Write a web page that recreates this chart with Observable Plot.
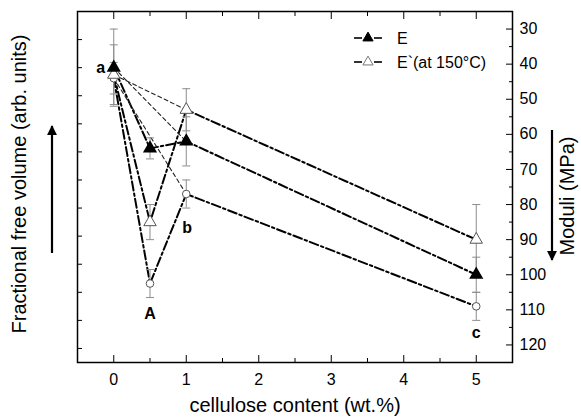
<!DOCTYPE html>
<html><head><meta charset="utf-8">
<script src="https://cdn.jsdelivr.net/npm/d3@7"></script>
<script src="https://cdn.jsdelivr.net/npm/@observablehq/plot@0.6"></script>
<style>
body{margin:0;background:#fff}
svg{font-family:"Liberation Sans",Arial,Helvetica,sans-serif}
</style>
</head><body><div id="chart"></div>
<script>
// ---- data ----
const contents = [0, 0.5, 1, 5];               // cellulose content (wt.%)
const modulusE = [41, 64, 62, 100];             // E (MPa), filled triangles
const errE = [11, 3, 7, 5];
const modulusE150 = [43, 85, 53, 90];           // E` at 150 °C, open triangles
const errE150 = [8.5, 5, 6, 10];
const freeVolume = [44, 102.5, 77, 109];        // fractional free volume, open circles
const errFreeVolume = [4.5, 4, 4, 4];
const xMajorTicks = [0, 1, 2, 3, 4, 5];
const xMinorTicks = [0.5, 1.5, 2.5, 3.5, 4.5];
const yMajorTicks = [30, 40, 50, 60, 70, 80, 90, 100, 110, 120];
const yMinorTicks = [35, 45, 55, 65, 75, 85, 95, 105, 115];
const leftTicks = [33, 41, 49, 57, 65, 73, 81, 89, 97, 105, 113, 121];
const legendItems = ["E", "E`(at 150°C)"];
const pointLabels = [
  {series: "E", index: 0, text: "a"},
  {series: "FFV", index: 1, text: "A"},
  {series: "FFV", index: 2, text: "b"},
  {series: "FFV", index: 3, text: "c"}
];

const seriesDefs = [
  {key: "E", values: modulusE, errs: errE},
  {key: "E150", values: modulusE150, errs: errE150},
  {key: "FFV", values: freeVolume, errs: errFreeVolume}
];
const rows = seriesDefs.flatMap(s => contents.map((x, i) => ({series: s.key, x, y: s.values[i], err: s.errs[i]})));
const shortRows = rows.filter(d => d.x === 0 || d.x === 1);
const labelRows = pointLabels.map(p => {
  const r = rows.find(d => d.series === p.series && d.x === contents[p.index]);
  return {...r, text: p.text};
});
const labelOffsets = {a: [-13, 0], A: [0, 30], b: [1, 34], c: [0, 27]};

const capSymbol = {draw(ctx) { ctx.moveTo(-4, 0); ctx.lineTo(4, 0); }};
const grey = "#8c8c8c";

const plot = Plot.plot({
  width: 581, height: 419,
  marginLeft: 77, marginRight: 69, marginTop: 11, marginBottom: 57,
  style: {fontFamily: "'Liberation Sans', Arial, sans-serif", fontSize: "16px", background: "#fff", color: "#000"},
  x: {domain: [-0.5, 5.5]},
  y: {domain: [125, 25]},
  marks: [
    // dash-dot connecting lines
    Plot.line(rows, {x: "x", y: "y", z: "series", stroke: "#000", strokeWidth: 2, strokeDasharray: "9,3,2.5,3"}),
    // thin dashed 0 -> 1 lines
    Plot.line(shortRows, {x: "x", y: "y", z: "series", stroke: "#222", strokeWidth: 1.1, strokeDasharray: "4,3"}),
    // error bars
    Plot.ruleX(rows, {x: "x", y1: d => d.y - d.err, y2: d => d.y + d.err, stroke: grey, strokeWidth: 1}),
    Plot.dot(rows, {x: "x", y: d => d.y - d.err, symbol: capSymbol, stroke: grey, strokeWidth: 1, r: 4}),
    Plot.dot(rows, {x: "x", y: d => d.y + d.err, symbol: capSymbol, stroke: grey, strokeWidth: 1, r: 4}),
    // markers
    Plot.dot(rows.filter(d => d.series === "FFV"), {x: "x", y: "y", r: 3.8, fill: "#fff", stroke: "#555", strokeWidth: 1}),
    Plot.dot(rows.filter(d => d.series === "E150"), {x: "x", y: "y", r: 4.6, symbol: "triangle", fill: "#fff", stroke: "#555", strokeWidth: 1}),
    Plot.dot(rows.filter(d => d.series === "E"), {x: "x", y: "y", r: 4.3, symbol: "triangle", fill: "#000", stroke: "#000"}),
    // point labels
    ...labelRows.map(d => Plot.text([d], {x: "x", y: "y", text: "text", fontWeight: "bold", fontSize: 16,
      dx: labelOffsets[d.text][0], dy: labelOffsets[d.text][1]})),
    // frame
    Plot.frame({stroke: "#000", strokeWidth: 1.5}),
    // bottom axis: inward ticks + labels
    Plot.axisX(xMajorTicks, {anchor: "bottom", tickSize: 7, dy: -7, tickFormat: () => "", label: null}),
    Plot.axisX(xMinorTicks, {anchor: "bottom", tickSize: 4, dy: -4, tickFormat: () => "", label: null}),
    Plot.axisX(xMajorTicks, {anchor: "bottom", tickSize: 0, tickPadding: 11, fontSize: 16, label: null}),
    // top axis ticks
    Plot.axisX(xMajorTicks, {anchor: "top", tickSize: 7, dy: 7, tickFormat: () => "", label: null}),
    Plot.axisX(xMinorTicks, {anchor: "top", tickSize: 4, dy: 4, tickFormat: () => "", label: null}),
    // right axis
    Plot.axisY(yMajorTicks, {anchor: "right", tickSize: 7, dx: -7, tickFormat: () => "", label: null}),
    Plot.axisY(yMinorTicks, {anchor: "right", tickSize: 4, dx: -4, tickFormat: () => "", label: null}),
    Plot.axisY(yMajorTicks, {anchor: "right", tickSize: 0, tickPadding: 7, fontSize: 16, label: null}),
    // left axis (free volume, unlabelled ticks)
    Plot.axisY(leftTicks, {anchor: "left", tickSize: 5, dx: 5, tickFormat: () => "", label: null}),
    // axis titles
    Plot.text(["cellulose content (wt.%)"], {frameAnchor: "bottom", dy: 49, fontSize: 20}),
    Plot.text(["Fractional free volume (arb. units)"], {frameAnchor: "left", dx: -58, dy: -3, rotate: -90, textAnchor: "middle", fontSize: 20}),
    Plot.text(["Moduli (MPa)"], {frameAnchor: "right", dx: 55, dy: 9, rotate: -90, textAnchor: "middle", fontSize: 20})
  ]
});
document.getElementById("chart").appendChild(plot);

// ---- decorations: arrows and legend ----
const svg = d3.select(plot);
const defs = svg.append("defs");
defs.append("marker").attr("id", "ah").attr("viewBox", "0 0 10 10").attr("refX", 9).attr("refY", 5)
  .attr("markerWidth", 4.5).attr("markerHeight", 4.5).attr("orient", "auto")
  .append("path").attr("d", "M0,0 L10,5 L0,10 z").attr("fill", "#000");
svg.append("line").attr("x1", 52).attr("y1", 253).attr("x2", 52).attr("y2", 126)
  .attr("stroke", "#000").attr("stroke-width", 2.2).attr("marker-end", "url(#ah)");
svg.append("line").attr("x1", 552).attr("y1", 130).attr("x2", 552).attr("y2", 260)
  .attr("stroke", "#000").attr("stroke-width", 2.2).attr("marker-end", "url(#ah)");

const lg = svg.append("g");
const legendStyles = [{fill: "#000", stroke: "#000"}, {fill: "#fff", stroke: "#777"}];
legendItems.forEach((label, i) => {
  const cy = 38 + i * 24;
  const g = lg.append("g");
  g.append("line").attr("x1", 354).attr("x2", 362).attr("y1", cy).attr("y2", cy).attr("stroke", "#000").attr("stroke-width", 1.6);
  g.append("line").attr("x1", 374).attr("x2", 382).attr("y1", cy).attr("y2", cy).attr("stroke", "#000").attr("stroke-width", 1.6);
  g.append("path").attr("d", d3.symbol(d3.symbolTriangle, 45)()).attr("transform", `translate(368,${cy})`)
    .attr("fill", legendStyles[i].fill).attr("stroke", legendStyles[i].stroke);
  g.append("text").attr("x", 397).attr("y", cy).attr("dy", "0.35em").attr("text-anchor", "start")
    .attr("font-size", 16).text(label);
});
</script>
</body></html>
